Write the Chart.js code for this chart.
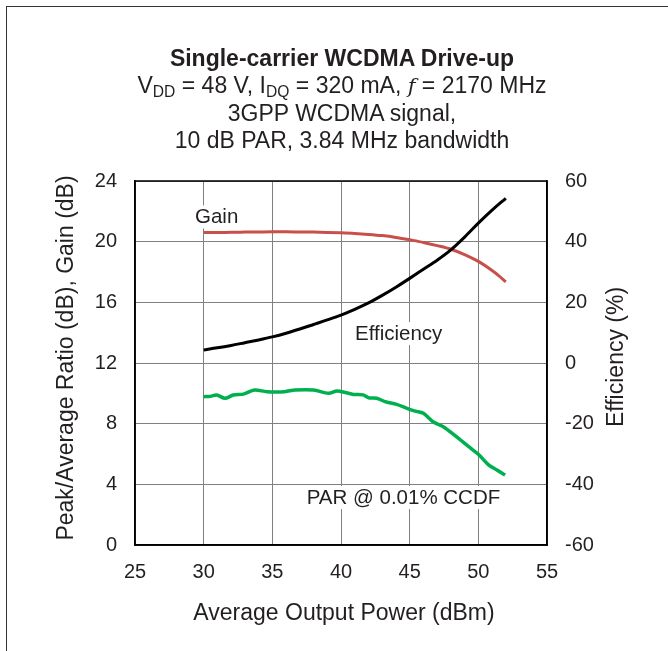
<!DOCTYPE html>
<html>
<head>
<meta charset="utf-8">
<script src="https://cdn.jsdelivr.net/npm/chart.js@4.4.1/dist/chart.umd.min.js"></script>
<style>
  html, body { margin: 0; padding: 0; background: #fff; }
  body { width: 668px; height: 651px; position: relative; overflow: hidden; font-family: "Liberation Sans", Arial, Helvetica, sans-serif; color: #231f20; }
  #frame { position: absolute; left: 6px; top: 6px; width: 700px; height: 700px; border-left: 1.5px solid #333; border-top: 1.5px solid #333; }
  #title { position: absolute; left: 0; width: 684px; top: 45px; text-align: center; font-size: 23px; line-height: 27px; }
  #title b { font-weight: bold; }
  #title sub { font-size: 68%; vertical-align: -0.28em; line-height: 0; }
  #wrap { position: absolute; left: 0; top: 0; width: 668px; height: 651px; }
</style>
</head>
<body>
<div id="frame"></div>
<div id="wrap"><canvas id="c" width="668" height="651"></canvas></div>
<div id="title">
  <b>Single-carrier WCDMA Drive-up</b><br>
  V<sub>DD</sub> = 48 V, I<sub>DQ</sub> = 320 mA, <i style="font-family:'DejaVu Serif',serif;font-size:21px">f</i> = 2170 MHz<br>
  3GPP WCDMA signal,<br>
  10 dB PAR, 3.84 MHz bandwidth
</div>
<script>
// ---- data ----
const xTicks = [25, 30, 35, 40, 45, 50, 55];
const leftTicks = [0, 4, 8, 12, 16, 20, 24];
const rightTicks = [-60, -40, -20, 0, 20, 40, 60];

const gainX = [30, 31, 32, 33, 34, 35, 36, 37, 38, 39, 40, 41, 42, 43, 44, 45, 46, 47, 48, 49, 50, 51, 51.5, 52];
const gainY = [20.6, 20.6, 20.62, 20.63, 20.64, 20.65, 20.65, 20.64, 20.63, 20.61, 20.58, 20.54, 20.48, 20.4, 20.28, 20.12, 19.95, 19.74, 19.5, 19.15, 18.7, 18.1, 17.75, 17.35];

const effX = [30, 31, 32, 33, 34, 35, 36, 37, 38, 39, 40, 41, 42, 43, 44, 45, 46, 47, 48, 49, 50, 51, 52];
const effY = [4.3, 5.0, 5.8, 6.7, 7.6, 8.6, 9.8, 11.2, 12.7, 14.2, 15.8, 17.7, 19.8, 22.3, 25.0, 27.9, 30.9, 33.9, 37.3, 41.5, 46.1, 50.4, 54.3];

const parX = [30.0, 30.5, 30.95, 31.55, 32.16, 32.9, 33.7, 34.6, 35.9, 36.65, 38.0, 39.1, 39.7, 40.3, 40.9, 41.6, 42.0, 42.6, 43.2, 44.05, 44.8, 45.4, 46.0, 46.7, 47.45, 48.4, 49.3, 50.0, 50.7, 51.35, 51.95];
const parY = [9.78, 9.8, 9.89, 9.67, 9.89, 9.95, 10.22, 10.11, 10.11, 10.22, 10.22, 10.0, 10.15, 10.06, 9.93, 9.9, 9.71, 9.68, 9.45, 9.27, 9.01, 8.83, 8.68, 8.13, 7.8, 7.14, 6.48, 5.98, 5.32, 4.94, 4.61];

const labelTexts = ["Gain", "Efficiency", "PAR @ 0.01% CCDF"];
const labelX = [29.37, 41.02, 37.5];
const labelY = [21.2, 13.51, 2.7];

const leftTitle = 'Peak/Average Ratio (dB), Gain (dB)';
const rightTitle = 'Efficiency (%)';
const bottomTitle = 'Average Output Power (dBm)';

// ---- chart ----
const FONT = "'Liberation Sans', Arial, Helvetica, sans-serif";
const TXT = '#231f20';
const GRID = '#808080';

function pts(xs, ys) { return xs.map((x, i) => ({ x: x, y: ys[i] })); }

const labelsPlugin = {
  id: 'curveLabels',
  beforeDatasetsDraw(chart) {
    const ctx = chart.ctx;
    const xs = chart.scales.x, ys = chart.scales.y;
    ctx.save();
    ctx.font = '20.5px ' + FONT;
    ctx.textBaseline = 'alphabetic';
    ctx.textAlign = 'left';
    labelTexts.forEach((t, i) => {
      const px = xs.getPixelForValue(labelX[i]);
      const py = ys.getPixelForValue(labelY[i]);
      const w = ctx.measureText(t).width;
      ctx.fillStyle = '#fff';
      ctx.fillRect(px - 3, py - 18, w + 6, 23);
      ctx.fillStyle = TXT;
      ctx.fillText(t, px, py);
    });
    ctx.restore();
  },
  afterDraw(chart) {
    const a = chart.chartArea, ctx = chart.ctx;
    ctx.save();
    ctx.strokeStyle = '#000';
    ctx.lineWidth = 1.5;
    ctx.strokeRect(a.left, a.top, a.right - a.left, a.bottom - a.top);
    // axis titles (vertical ones both read bottom-to-top)
    ctx.fillStyle = TXT;
    ctx.font = '23px ' + FONT;
    ctx.textAlign = 'center';
    ctx.textBaseline = 'middle';
    const midY = (a.top + a.bottom) / 2;
    const midX = (a.left + a.right) / 2;
    ctx.fillText(bottomTitle, midX + 3, a.bottom + 69);
    [[leftTitle, a.left - 68.5, midY - 5], [rightTitle, a.right + 69.5, midY - 6]].forEach(([t, cx, cy]) => {
      ctx.save();
      ctx.translate(cx, cy);
      ctx.rotate(-Math.PI / 2);
      ctx.fillText(t, 0, 0);
      ctx.restore();
    });
    ctx.restore();
  }
};

new Chart(document.getElementById('c'), {
  type: 'line',
  data: {
    datasets: [
      { label: 'Gain', data: pts(gainX, gainY), yAxisID: 'y', borderColor: '#c8504b', borderWidth: 3, pointRadius: 0, tension: 0.4, cubicInterpolationMode: 'monotone', order: 1 },
      { label: 'Efficiency', data: pts(effX, effY), yAxisID: 'y1', borderColor: '#000000', borderWidth: 3, pointRadius: 0, tension: 0.4, cubicInterpolationMode: 'monotone', order: 0 },
      { label: 'PAR @ 0.01% CCDF', data: pts(parX, parY), yAxisID: 'y', borderColor: '#00b04f', borderWidth: 3.5, pointRadius: 0, tension: 0.3, order: 2 }
    ]
  },
  options: {
    responsive: false,
    animation: false,
    devicePixelRatio: 1,
    layout: { padding: { top: 181, left: 0, right: 0, bottom: 0 } },
    plugins: { legend: { display: false }, tooltip: { enabled: false }, title: { display: false } },
    scales: {
      x: {
        type: 'linear', min: 25, max: 55,
        afterBuildTicks: (s) => { s.ticks = xTicks.map(v => ({ value: v })); },
        afterFit: (s) => { s.height = 106; },
        ticks: { font: { family: FONT, size: 20 }, color: TXT, padding: 15, maxRotation: 0 },
        grid: { color: GRID, lineWidth: 1, drawTicks: false },
        border: { display: true, color: '#000', width: 1.5 },
        title: { display: false }
      },
      y: {
        type: 'linear', position: 'left', min: 0, max: 24,
        afterBuildTicks: (s) => { s.ticks = leftTicks.map(v => ({ value: v })); },
        afterFit: (s) => { s.width = 135; },
        ticks: { font: { family: FONT, size: 20 }, color: TXT, padding: 18 },
        grid: { color: GRID, lineWidth: 1, drawTicks: false },
        border: { display: true, color: '#000', width: 1.5 },
        title: { display: false }
      },
      y1: {
        type: 'linear', position: 'right', min: -60, max: 60,
        afterBuildTicks: (s) => { s.ticks = rightTicks.map(v => ({ value: v })); },
        afterFit: (s) => { s.width = 121; },
        ticks: { font: { family: FONT, size: 20 }, color: TXT, padding: 18 },
        grid: { display: false, drawTicks: false },
        border: { display: true, color: '#000', width: 1.5 },
        title: { display: false }
      }
    }
  },
  plugins: [labelsPlugin]
});
</script>
</body>
</html>
